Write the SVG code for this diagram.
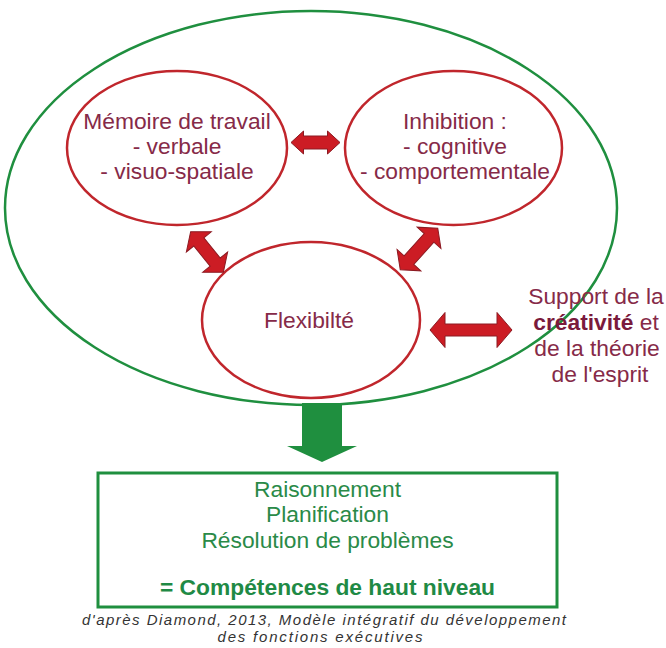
<svg xmlns="http://www.w3.org/2000/svg" width="666" height="648" viewBox="0 0 666 648">
<defs>
<style>
.bg{fill:#ffffff}
.outer{fill:none;stroke:#1f8f3f;stroke-width:2.5}
.node{fill:none;stroke:#c0262c;stroke-width:2.5}
.t{font-family:"Liberation Sans",Arial,sans-serif;font-size:22.8px;fill:#862a48;text-anchor:middle}
.g{font-family:"Liberation Sans",Arial,sans-serif;font-size:22.8px;fill:#2a8a48;text-anchor:middle}
.gb{font-weight:bold;fill:#1f8a45}
.b{font-weight:bold;fill:#7a1a3c}
.box{fill:none;stroke:#1f8f3f;stroke-width:3}
.arr{fill:#cc1c24;stroke:#8c1a22;stroke-width:1}
.garr{fill:#1f8f3f;stroke:none}
.cap{font-family:"Liberation Sans",Arial,sans-serif;font-size:15px;font-style:italic;fill:#333333;text-anchor:middle}
</style>
</defs>
<rect class="bg" x="0" y="0" width="666" height="648"/>
<g id="outer-ellipse">
<ellipse class="outer" cx="311" cy="208" rx="306" ry="197"/>
</g>
<g id="memoire">
<ellipse class="node" cx="177" cy="148" rx="110" ry="77"/>
<text class="t" x="177" y="129">Mémoire de travail</text>
<text class="t" x="177" y="154">- verbale</text>
<text class="t" x="177" y="179">- visuo-spatiale</text>
</g>
<g id="inhibition">
<ellipse class="node" cx="453.5" cy="148" rx="108.5" ry="77"/>
<text class="t" x="455" y="129">Inhibition :</text>
<text class="t" x="455" y="154">- cognitive</text>
<text class="t" x="455" y="179">- comportementale</text>
</g>
<g id="flexibilite">
<ellipse class="node" cx="311" cy="320" rx="109" ry="78"/>
<text class="t" x="309" y="328">Flexibilté</text>
</g>
<g id="support">
<text class="t" x="596" y="304">Support de la</text>
<text class="t" x="596" y="330"><tspan class="b">créativité</tspan> et</text>
<text class="t" x="597" y="356">de la théorie</text>
<text class="t" x="600" y="382">de l'esprit</text>
</g>
<g id="competences">
<rect class="box" x="98" y="473" width="459" height="134"/>
<text class="g" x="327.5" y="497">Raisonnement</text>
<text class="g" x="327.5" y="522">Planification</text>
<text class="g" x="327.5" y="548">Résolution de problèmes</text>
<text class="g gb" x="327.5" y="595">= Compétences de haut niveau</text>
</g>
<g id="caption">
<text class="cap" x="324" y="625" textLength="484" lengthAdjust="spacing">d'après Diamond, 2013, Modèle intégratif du développement</text>
<text class="cap" x="320" y="642" textLength="205" lengthAdjust="spacing">des fonctions exécutives</text>
</g>
<g id="connectors">
<path class="arr" transform="translate(315.5,142.5)" d="M-24.5,0 L-12,-11.5 L-12,-6.5 L12,-6.5 L12,-11.5 L24.5,0 L12,11.5 L12,6.5 L-12,6.5 L-12,11.5 Z"/>
<path class="arr" transform="translate(207,252) rotate(51)" d="M-26,0 L-13,-16 L-13,-6.5 L13,-6.5 L13,-16 L26,0 L13,16 L13,6.5 L-13,6.5 L-13,16 Z"/>
<path class="arr" transform="translate(419,249) rotate(132)" d="M-28,0 L-15,-16 L-15,-6.5 L15,-6.5 L15,-16 L28,0 L15,16 L15,6.5 L-15,6.5 L-15,16 Z"/>
<path class="arr" transform="translate(471,330)" d="M-41,0 L-26,-17.5 L-26,-6 L26,-6 L26,-17.5 L41,0 L26,17.5 L26,6 L-26,6 L-26,17.5 Z"/>
<path class="garr" d="M302,403 L342,403 L342,446 L357,446 L322,462 L287,446 L302,446 Z"/>
</g>
</svg>
